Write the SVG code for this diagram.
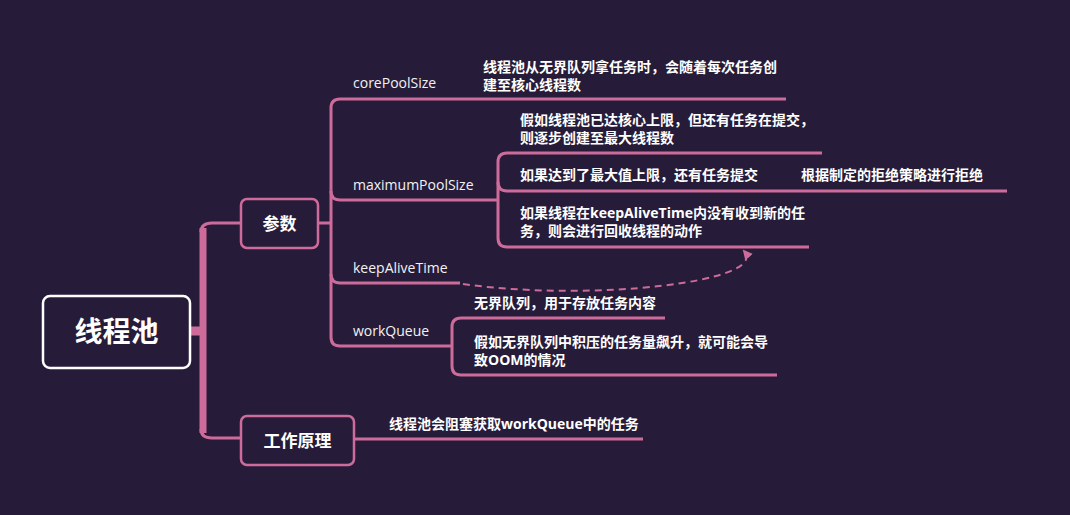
<svg xmlns="http://www.w3.org/2000/svg" width="1070" height="515" viewBox="0 0 1070 515">
<defs>
<style>
.bg{fill:#261c3a}
.ln{fill:none;stroke:#cd6b9a;stroke-width:3;stroke-linecap:butt}
.nd{fill:#261c3a;stroke:#cd6b9a;stroke-width:2.5}
.lbl{font-family:"Open Sans","Noto Sans",sans-serif;font-size:14px;fill:#f2f2f2}
.txt{font-family:"Open Sans","Noto Sans CJK SC",sans-serif;font-size:14px;font-weight:bold;fill:#ffffff}
.tt{font-family:"Noto Sans CJK SC",sans-serif;font-weight:bold;fill:#ffffff;text-anchor:middle}
</style>
<marker id="ah" viewBox="0 0 10 10" refX="8" refY="5" markerWidth="5" markerHeight="5" orient="auto">
<path d="M0,0 L10,5 L0,10 z" fill="#cd6b9a"/>
</marker>
</defs>
<rect class="bg" x="0" y="0" width="1070" height="515"/>
<g id="connectors">
<path d="M190,331 H203" stroke="#cd6b9a" stroke-width="9" fill="none"/>
<path d="M203,228 V433" stroke="#cd6b9a" stroke-width="7" fill="none"/>
<path class="ln" d="M241,223 H212 Q201,223 201,232 M201,429 Q201,438 212,438 H241" stroke-width="4"/>
<path class="ln" d="M318,223 H331"/>
<path class="ln" d="M786,99 H340 Q331,99 331,108 V337 Q331,346 340,346 H452"/>
<path class="ln" d="M331,191 Q331,200 340,200 H498"/>
<path class="ln" d="M331,274 Q331,283 340,283 H460"/>
<path class="ln" d="M822,153 H507 Q498,153 498,162 V238 Q498,247 507,247 H809"/>
<path class="ln" d="M498,182 Q498,191 507,191 H1007"/>
<path class="ln" d="M665,318 H461 Q452,318 452,327 V366 Q452,375 461,375 H777"/>
<path class="ln" d="M354,439 H643"/>
<path d="M463,284 C590,302 770,282 744,251" fill="none" stroke="#cd6b9a" stroke-width="2" stroke-dasharray="7,5" marker-end="url(#ah)"/>
</g>
<g id="root">
<rect x="43" y="296" width="147" height="72" rx="7" fill="#261c3a" stroke="#ffffff" stroke-width="2.5"/>
<text class="tt" x="116.5" y="342" font-size="28">线程池</text>
</g>
<g id="params">
<rect class="nd" x="241" y="199" width="77" height="49" rx="6"/>
<text class="tt" x="279.5" y="230" font-size="17">参数</text>
</g>
<g id="principle">
<rect class="nd" x="241" y="416" width="113" height="49" rx="6"/>
<text class="tt" x="297.5" y="447" font-size="17">工作原理</text>
</g>
<g id="corePoolSize">
<text class="lbl" x="353" y="88">corePoolSize</text>
</g>
<g id="core-detail">
<text class="txt" x="483" y="72">线程池从无界队列拿任务时，会随着每次任务创</text>
<text class="txt" x="483" y="90">建至核心线程数</text>
</g>
<g id="maximumPoolSize">
<text class="lbl" x="353" y="190">maximumPoolSize</text>
</g>
<g id="max-detail1">
<text class="txt" x="520" y="125">假如线程池已达核心上限，但还有任务在提交，</text>
<text class="txt" x="520" y="143">则逐步创建至最大线程数</text>
</g>
<g id="max-detail2">
<text class="txt" x="520" y="180">如果达到了最大值上限，还有任务提交</text>
</g>
<g id="reject">
<text class="txt" x="801" y="180">根据制定的拒绝策略进行拒绝</text>
</g>
<g id="max-detail3">
<text class="txt" x="520" y="218">如果线程在keepAliveTime内没有收到新的任</text>
<text class="txt" x="520" y="236">务，则会进行回收线程的动作</text>
</g>
<g id="keepAliveTime">
<text class="lbl" x="353" y="273">keepAliveTime</text>
</g>
<g id="workQueue">
<text class="lbl" x="353" y="336">workQueue</text>
</g>
<g id="wq-detail1">
<text class="txt" x="474" y="308">无界队列，用于存放任务内容</text>
</g>
<g id="wq-detail2">
<text class="txt" x="474" y="347">假如无界队列中积压的任务量飙升，就可能会导</text>
<text class="txt" x="474" y="365">致OOM的情况</text>
</g>
<g id="principle-detail">
<text class="txt" x="389" y="429">线程池会阻塞获取workQueue中的任务</text>
</g>
</svg>
